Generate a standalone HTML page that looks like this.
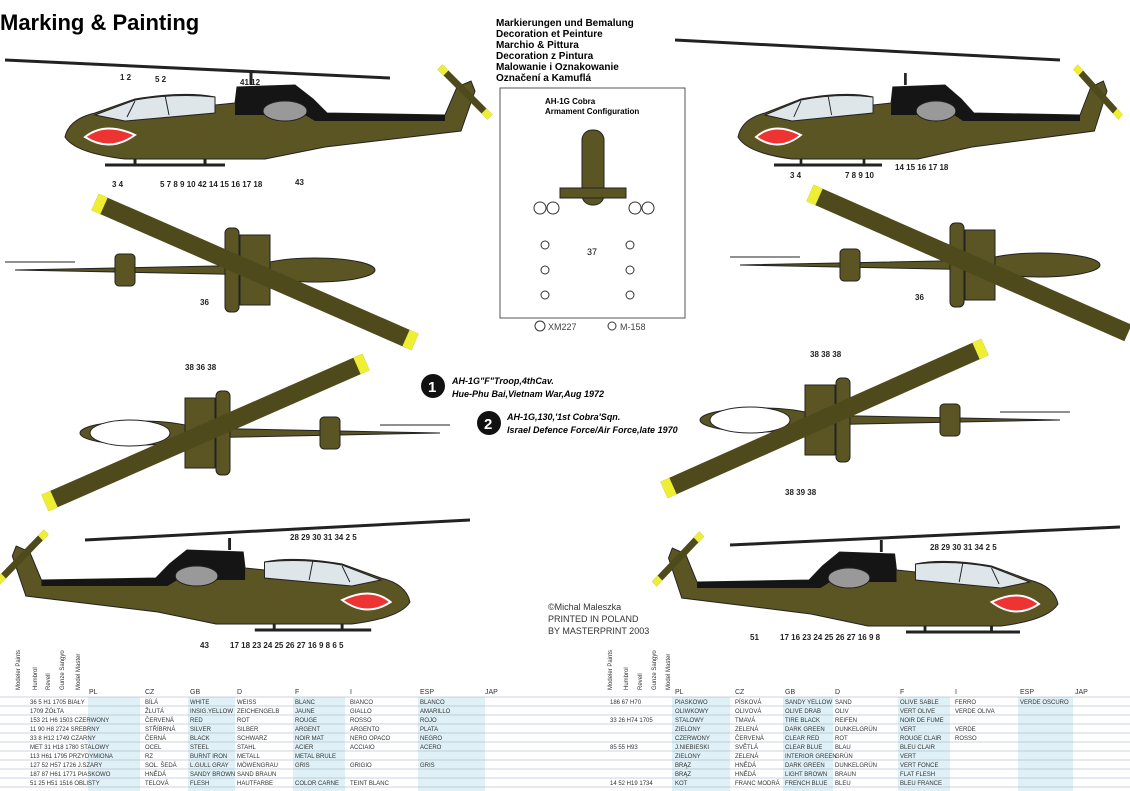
<!DOCTYPE html>
<html><head><meta charset="utf-8"><style>
body{margin:0;width:1130px;height:791px;overflow:hidden;background:#fff;font-family:"Liberation Sans",sans-serif}
svg{position:absolute;left:0;top:0}
</style></head><body>
<svg width="1130" height="791" viewBox="0 0 1130 791" xmlns="http://www.w3.org/2000/svg" font-family="Liberation Sans, sans-serif">
<defs>
<g id="side">
  <path d="M0,82 Q4,64 30,58 L70,44 Q120,36 150,42 L150,50 L170,48 L172,32 L230,30 L248,44 L262,58 L380,60 L392,32 L406,26 L410,36 L396,76 L260,92 L200,104 L60,104 Q10,98 0,82 Z" fill="#5b5524" stroke="#222" stroke-width="1"/>
  <path d="M170,50 L172,32 L230,30 L248,44 L262,58 L380,60 L380,66 L250,66 L240,60 L170,60 Z" fill="#151515"/>
  <path d="M30,60 L70,45 Q110,38 150,42 L150,58 L60,66 Z" fill="#dfe6ea" stroke="#222"/>
  <path d="M62,62 L70,46 M100,40 L104,60" stroke="#222"/>
  <ellipse cx="220" cy="56" rx="22" ry="10" fill="#999" stroke="#222"/>
  <path d="M20,82 Q40,66 70,80 Q45,98 20,82Z" fill="#e33" stroke="#fff" stroke-width="2"/>
  <path d="M40,110 L160,110 M70,104 L70,110 M140,104 L140,110" stroke="#222" stroke-width="3"/>
  <line x1="186" y1="30" x2="186" y2="18" stroke="#222" stroke-width="3"/>
  <line x1="375" y1="12" x2="425" y2="62" stroke="#4e4a1c" stroke-width="7"/>
  <line x1="375" y1="12" x2="381" y2="18" stroke="#ee3" stroke-width="7"/>
  <line x1="419" y1="56" x2="425" y2="62" stroke="#ee3" stroke-width="7"/>
</g>
<g id="top">
  <ellipse cx="300" cy="0" rx="60" ry="12" fill="#5b5524" stroke="#222"/>
  <path d="M0,0 L250,-5 L250,5 Z" fill="#5b5524" stroke="#222"/>
  <rect x="100" y="-16" width="20" height="32" rx="4" fill="#5b5524" stroke="#222"/>
  <rect x="225" y="-35" width="30" height="70" fill="#5b5524" stroke="#222"/>
  <rect x="210" y="-42" width="14" height="84" rx="5" fill="#5b5524" stroke="#222"/>
  <line x1="-10" y1="-8" x2="60" y2="-8" stroke="#222"/>
</g>
</defs>

<text x="0" y="30" font-size="22" font-weight="bold">Marking &amp; Painting</text>
<g font-size="10" font-weight="bold">
<text x="496" y="26">Markierungen und Bemalung</text>
<text x="496" y="37">Decoration et Peinture</text>
<text x="496" y="48">Marchio &amp; Pittura</text>
<text x="496" y="59">Decoration z Pintura</text>
<text x="496" y="70">Malowanie i Oznakowanie</text>
<text x="496" y="81">Označení a Kamuflá</text>
</g>
<rect x="500" y="88" width="185" height="230" fill="none" stroke="#555"/>
<text x="545" y="104" font-size="8" font-weight="bold">AH-1G Cobra</text>
<text x="545" y="114" font-size="8" font-weight="bold">Armament Configuration</text>
<g fill="#5b5524" stroke="#222">
<rect x="582" y="130" width="22" height="75" rx="10"/>
<rect x="560" y="188" width="66" height="10"/>
</g>
<g fill="#fff" stroke="#333">
<circle cx="540" cy="208" r="6"/><circle cx="553" cy="208" r="6"/><circle cx="635" cy="208" r="6"/><circle cx="648" cy="208" r="6"/>
<circle cx="545" cy="245" r="4"/><circle cx="545" cy="270" r="4"/><circle cx="545" cy="295" r="4"/>
<circle cx="630" cy="245" r="4"/><circle cx="630" cy="270" r="4"/><circle cx="630" cy="295" r="4"/>
<circle cx="540" cy="326" r="5"/><circle cx="612" cy="326" r="4"/>
</g>
<text x="587" y="255" font-size="9">37</text>
<text x="548" y="330" font-size="9" fill="#444">XM227</text>
<text x="620" y="330" font-size="9" fill="#444">M-158</text>

<line x1="5" y1="60" x2="390" y2="78" stroke="#222" stroke-width="3"/>
<use href="#side" transform="translate(65,55)"/>
<line x1="675" y1="40" x2="1060" y2="60" stroke="#222" stroke-width="3"/>
<use href="#side" transform="translate(738,55) scale(0.9,1)"/>
<line x1="85" y1="540" x2="470" y2="520" stroke="#222" stroke-width="3"/>
<use href="#side" transform="translate(410,520) scale(-0.97,1)"/>
<line x1="730" y1="545" x2="1120" y2="527" stroke="#222" stroke-width="3"/>
<use href="#side" transform="translate(1058,522) scale(-0.95,1)"/>

<g font-size="8" font-weight="bold" fill="#222">
<text x="112" y="187">3 4</text><text x="160" y="187">5 7 8 9 10 42 14 15 16 17 18</text><text x="295" y="185">43</text>
<text x="120" y="80">1 2</text><text x="155" y="82">5 2</text><text x="240" y="85">41 12</text>
<text x="790" y="178">3 4</text><text x="845" y="178">7 8 9 10</text><text x="895" y="170">14 15 16 17 18</text>
<text x="200" y="648">43</text><text x="230" y="648">17 18 23 24 25 26 27 16 9 8 6 5</text>
<text x="750" y="640">51</text><text x="780" y="640">17 16 23 24 25 26 27 16 9 8</text>
<text x="290" y="540">28 29 30 31 34 2 5</text><text x="930" y="550">28 29 30 31 34 2 5</text>
<text x="200" y="305">36</text><text x="915" y="300">36</text>
<text x="185" y="370">38 36 38</text><text x="810" y="357">38 38 38</text>
<text x="785" y="495">38 39 38</text>
</g>

<use href="#top" transform="translate(15,270)"/>
<line x1="95" y1="202" x2="415" y2="342" stroke="#4e4a1c" stroke-width="18"/>
<line x1="95" y1="202" x2="104" y2="206" stroke="#ee3" stroke-width="18"/>
<line x1="406" y1="338" x2="415" y2="342" stroke="#ee3" stroke-width="18"/>
<use href="#top" transform="translate(740,265)"/>
<line x1="810" y1="193" x2="1128" y2="333" stroke="#4e4a1c" stroke-width="18"/>
<line x1="810" y1="193" x2="819" y2="197" stroke="#ee3" stroke-width="18"/>
<use href="#top" transform="translate(440,433) scale(-1,1)"/>
<ellipse cx="130" cy="433" rx="40" ry="13" fill="#fff" stroke="#222"/>
<line x1="366" y1="362" x2="45" y2="503" stroke="#4e4a1c" stroke-width="18"/>
<line x1="366" y1="362" x2="357" y2="366" stroke="#ee3" stroke-width="18"/>
<line x1="54" y1="499" x2="45" y2="503" stroke="#ee3" stroke-width="18"/>
<use href="#top" transform="translate(1060,420) scale(-1,1)"/>
<ellipse cx="750" cy="420" rx="40" ry="13" fill="#fff" stroke="#222"/>
<line x1="985" y1="347" x2="664" y2="490" stroke="#4e4a1c" stroke-width="18"/>
<line x1="985" y1="347" x2="976" y2="351" stroke="#ee3" stroke-width="18"/>
<line x1="673" y1="486" x2="664" y2="490" stroke="#ee3" stroke-width="18"/>

<circle cx="433" cy="386" r="12" fill="#111"/><text x="428" y="392" font-size="15" fill="#fff" font-weight="bold">1</text>
<circle cx="489" cy="423" r="12" fill="#111"/><text x="484" y="429" font-size="15" fill="#fff" font-weight="bold">2</text>
<g font-size="9" font-weight="bold" font-style="italic">
<text x="452" y="384">AH-1G"F"Troop,4thCav.</text>
<text x="452" y="397">Hue-Phu Bai,Vietnam War,Aug 1972</text>
<text x="507" y="420">AH-1G,130,'1st Cobra'Sqn.</text>
<text x="507" y="433">Israel Defence Force/Air Force,late 1970</text>
</g>
<g font-size="9" fill="#333">
<text x="548" y="610">©Michal Maleszka</text>
<text x="548" y="622">PRINTED IN POLAND</text>
<text x="548" y="634">BY MASTERPRINT 2003</text>
</g>

<g fill="#dff1f6">
<rect x="88" y="697" width="52" height="94"/><rect x="188" y="697" width="47" height="94"/><rect x="293" y="697" width="52" height="94"/><rect x="418" y="697" width="67" height="94"/>
<rect x="672" y="697" width="58" height="94"/><rect x="783" y="697" width="50" height="94"/><rect x="898" y="697" width="52" height="94"/><rect x="1018" y="697" width="55" height="94"/>
</g>
<g stroke="#9ab" stroke-width="0.6">
<line x1="0" y1="697" x2="1130" y2="697"/><line x1="0" y1="706" x2="1130" y2="706"/><line x1="0" y1="715" x2="1130" y2="715"/>
<line x1="0" y1="724" x2="1130" y2="724"/><line x1="0" y1="733" x2="1130" y2="733"/><line x1="0" y1="742" x2="1130" y2="742"/>
<line x1="0" y1="751" x2="1130" y2="751"/><line x1="0" y1="760" x2="1130" y2="760"/><line x1="0" y1="769" x2="1130" y2="769"/>
<line x1="0" y1="778" x2="1130" y2="778"/><line x1="0" y1="787" x2="1130" y2="787"/>
</g>
<g font-size="7" fill="#333">
<text x="89" y="694">PL</text><text x="145" y="694">CZ</text><text x="190" y="694">GB</text><text x="237" y="694">D</text>
<text x="295" y="694">F</text><text x="350" y="694">I</text><text x="420" y="694">ESP</text><text x="485" y="694">JAP</text>
<text x="675" y="694">PL</text><text x="735" y="694">CZ</text><text x="785" y="694">GB</text><text x="835" y="694">D</text>
<text x="900" y="694">F</text><text x="955" y="694">I</text><text x="1020" y="694">ESP</text><text x="1075" y="694">JAP</text>
</g>
<g font-size="6" fill="#333">
<text x="30" y="704">36 5 H1 1705 BIAŁY</text><text x="145" y="704">BÍLÁ</text><text x="190" y="704">WHITE</text><text x="237" y="704">WEISS</text><text x="295" y="704">BLANC</text><text x="350" y="704">BIANCO</text><text x="420" y="704">BLANCO</text>
<text x="30" y="713">1709 ŻÓŁTA</text><text x="145" y="713">ŽLUTÁ</text><text x="190" y="713">INSIG.YELLOW</text><text x="237" y="713">ZEICHENGELB</text><text x="295" y="713">JAUNE</text><text x="350" y="713">GIALLO</text><text x="420" y="713">AMARILLO</text>
<text x="30" y="722">153 21 H6 1503 CZERWONY</text><text x="145" y="722">ČERVENÁ</text><text x="190" y="722">RED</text><text x="237" y="722">ROT</text><text x="295" y="722">ROUGE</text><text x="350" y="722">ROSSO</text><text x="420" y="722">ROJO</text>
<text x="30" y="731">11 90 H8 2724 SREBRNY</text><text x="145" y="731">STŘÍBRNÁ</text><text x="190" y="731">SILVER</text><text x="237" y="731">SILBER</text><text x="295" y="731">ARGENT</text><text x="350" y="731">ARGENTO</text><text x="420" y="731">PLATA</text>
<text x="30" y="740">33 8 H12 1749 CZARNY</text><text x="145" y="740">ČERNÁ</text><text x="190" y="740">BLACK</text><text x="237" y="740">SCHWARZ</text><text x="295" y="740">NOIR MAT</text><text x="350" y="740">NERO OPACO</text><text x="420" y="740">NEGRO</text>
<text x="30" y="749">MET 31 H18 1780 STALOWY</text><text x="145" y="749">OCEL</text><text x="190" y="749">STEEL</text><text x="237" y="749">STAHL</text><text x="295" y="749">ACIER</text><text x="350" y="749">ACCIAIO</text><text x="420" y="749">ACERO</text>
<text x="30" y="758">113 H61 1795 PRZYDYMIONA</text><text x="145" y="758">RZ</text><text x="190" y="758">BURNT IRON</text><text x="237" y="758">METALL</text><text x="295" y="758">METAL BRULE</text>
<text x="30" y="767">127 52 H57 1726 J.SZARY</text><text x="145" y="767">SOL. ŠEDÁ</text><text x="190" y="767">L.GULL GRAY</text><text x="237" y="767">MÖWENGRAU</text><text x="295" y="767">GRIS</text><text x="350" y="767">GRIGIO</text><text x="420" y="767">GRIS</text>
<text x="30" y="776">187 87 H61 1771 PIASKOWO</text><text x="145" y="776">HNĚDÁ</text><text x="190" y="776">SANDY BROWN</text><text x="237" y="776">SAND BRAUN</text>
<text x="30" y="785">51 25 H51 1516 OBLISTY</text><text x="145" y="785">TELOVÁ</text><text x="190" y="785">FLESH</text><text x="237" y="785">HAUTFARBE</text><text x="295" y="785">COLOR CARNE</text><text x="350" y="785">TEINT BLANC</text>
<text x="610" y="704">186 67 H70</text><text x="675" y="704">PIASKOWO</text><text x="735" y="704">PÍSKOVÁ</text><text x="785" y="704">SANDY YELLOW</text><text x="835" y="704">SAND</text><text x="900" y="704">OLIVE SABLE</text><text x="955" y="704">FERRO</text><text x="1020" y="704">VERDE OSCURO</text>
<text x="675" y="713">OLIWKOWY</text><text x="735" y="713">OLIVOVÁ</text><text x="785" y="713">OLIVE DRAB</text><text x="835" y="713">OLIV</text><text x="900" y="713">VERT OLIVE</text><text x="955" y="713">VERDE OLIVA</text>
<text x="610" y="722">33 26 H74 1705</text><text x="675" y="722">STALOWY</text><text x="735" y="722">TMAVÁ</text><text x="785" y="722">TIRE BLACK</text><text x="835" y="722">REIFEN</text><text x="900" y="722">NOIR DE FUME</text>
<text x="675" y="731">ZIELONY</text><text x="735" y="731">ZELENÁ</text><text x="785" y="731">DARK GREEN</text><text x="835" y="731">DUNKELGRÜN</text><text x="900" y="731">VERT</text><text x="955" y="731">VERDE</text>
<text x="675" y="740">CZERWONY</text><text x="735" y="740">ČERVENÁ</text><text x="785" y="740">CLEAR RED</text><text x="835" y="740">ROT</text><text x="900" y="740">ROUGE CLAIR</text><text x="955" y="740">ROSSO</text>
<text x="610" y="749">85 55 H93</text><text x="675" y="749">J.NIEBIESKI</text><text x="735" y="749">SVĚTLÁ</text><text x="785" y="749">CLEAR BLUE</text><text x="835" y="749">BLAU</text><text x="900" y="749">BLEU CLAIR</text>
<text x="675" y="758">ZIELONY</text><text x="735" y="758">ZELENÁ</text><text x="785" y="758">INTERIOR GREEN</text><text x="835" y="758">GRÜN</text><text x="900" y="758">VERT</text>
<text x="675" y="767">BRĄZ</text><text x="735" y="767">HNĚDÁ</text><text x="785" y="767">DARK GREEN</text><text x="835" y="767">DUNKELGRÜN</text><text x="900" y="767">VERT FONCE</text>
<text x="675" y="776">BRĄZ</text><text x="735" y="776">HNĚDÁ</text><text x="785" y="776">LIGHT BROWN</text><text x="835" y="776">BRAUN</text><text x="900" y="776">FLAT FLESH</text>
<text x="610" y="785">14 52 H19 1734</text><text x="675" y="785">KOT</text><text x="735" y="785">FRANC MODRÁ</text><text x="785" y="785">FRENCH BLUE</text><text x="835" y="785">BLEU</text><text x="900" y="785">BLEU FRANCE</text>
</g>
<g font-size="6" fill="#333">
<text transform="translate(20,690) rotate(-90)">Modeler Paints</text>
<text transform="translate(37,690) rotate(-90)">Humbrol</text>
<text transform="translate(50,690) rotate(-90)">Revell</text>
<text transform="translate(64,690) rotate(-90)">Gunze Sangyo</text>
<text transform="translate(80,690) rotate(-90)">Model Master</text>
<text transform="translate(612,690) rotate(-90)">Modeler Paints</text>
<text transform="translate(628,690) rotate(-90)">Humbrol</text>
<text transform="translate(642,690) rotate(-90)">Revell</text>
<text transform="translate(656,690) rotate(-90)">Gunze Sangyo</text>
<text transform="translate(670,690) rotate(-90)">Model Master</text>
</g>
</svg>
</body></html>
